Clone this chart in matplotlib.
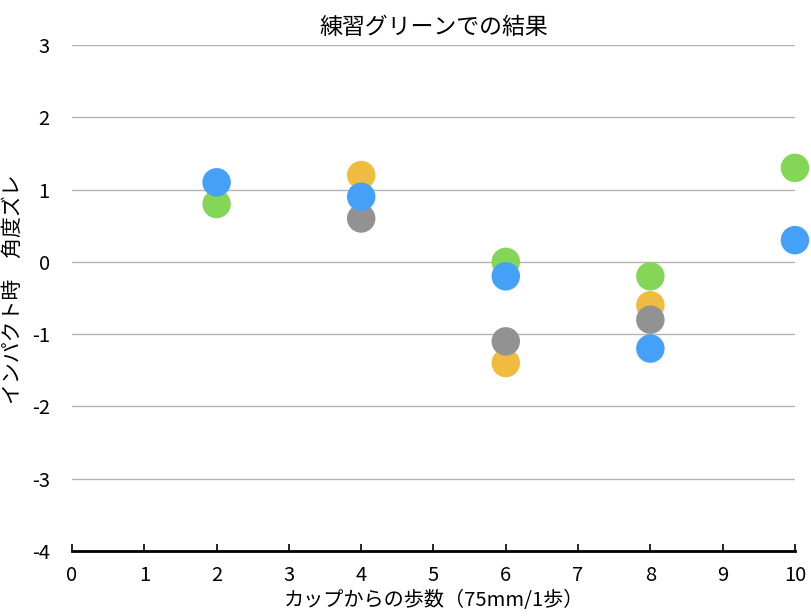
import matplotlib
matplotlib.use('Agg')
import matplotlib.pyplot as plt

plt.rcParams['font.family'] = ['Noto Sans CJK JP', 'DejaVu Sans']
plt.rcParams['axes.unicode_minus'] = False

# series values (x = steps from cup, y = angle deviation at impact)
green_x = [2, 6, 8, 10]
green_y = [0.8, 0.0, -0.2, 1.3]
yellow_x = [4, 6, 8]
yellow_y = [1.2, -1.4, -0.6]
gray_x = [4, 6, 8]
gray_y = [0.6, -1.1, -0.8]
blue_x = [2, 4, 6, 8, 10]
blue_y = [1.1, 0.9, -0.2, -1.2, 0.3]

SERIES = [(green_x, green_y, '#83d656'),
          (yellow_x, yellow_y, '#f0bc40'),
          (gray_x, gray_y, '#929292'),
          (blue_x, blue_y, '#45a1f8')]

fig = plt.figure(figsize=(8.12, 6.16), dpi=100)
ax = fig.add_axes([0.0887, 0.1055, 0.8903, 0.8215])

for xs, ys, c in SERIES:
    ax.scatter(xs, ys, s=420, color=c, edgecolors='none', zorder=3, clip_on=False)

ax.set_xlim(0, 10)
ax.set_ylim(-4, 3)
ax.set_xticks(range(0, 11))
ax.set_yticks(range(-4, 4))
ax.yaxis.grid(True, color='#b4b4b4', lw=1)
ax.set_axisbelow(True)
for s in ['top', 'right', 'left']:
    ax.spines[s].set_visible(False)
ax.spines['bottom'].set_linewidth(2)
ax.tick_params(axis='x', direction='in', length=5, width=1.2, pad=10, labelsize=14.5)
ax.tick_params(axis='y', length=0, pad=16, labelsize=14.5)

ax.set_xlabel('カップからの歩数（75mm/1歩）', fontsize=14.5, labelpad=3)
fig.text(13 / 812, 0.53, 'インパクト時　角度ズレ', rotation=90, fontsize=15,
         ha='center', va='center')
ax.set_title('練習グリーンでの結果', fontsize=16.5, pad=8)

fig.savefig('out.png', dpi=100)
